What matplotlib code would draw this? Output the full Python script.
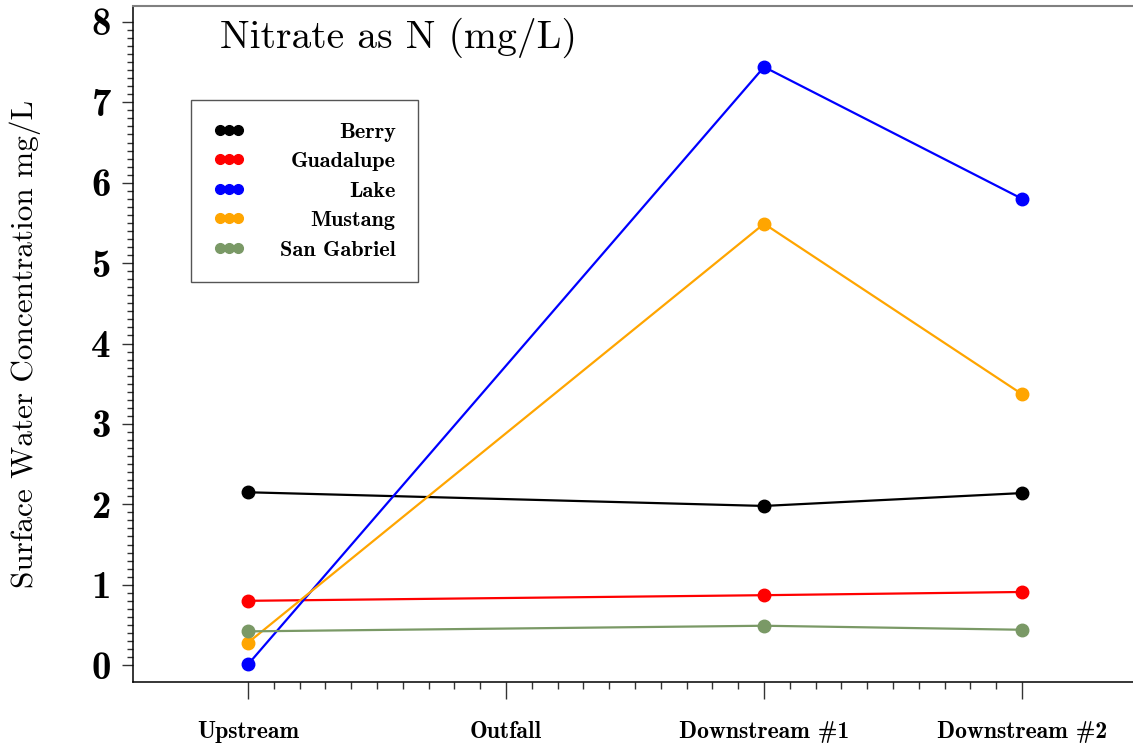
import numpy as np
import matplotlib
matplotlib.use('Agg')
import matplotlib.pyplot as plt
from matplotlib.lines import Line2D
from matplotlib.ticker import FixedLocator

plt.rcParams['axes.unicode_minus'] = False
plt.rcParams['axes.formatter.use_mathtext'] = True

# data
sites = ['Upstream', 'Outfall', 'Downstream #1', 'Downstream #2']
sampled = [0, 2, 3]  # no samples at the outfall
rivers = ['Berry', 'Guadalupe', 'Lake', 'Mustang', 'San Gabriel']
berry = [2.15, 1.98, 2.14]
guadalupe = [0.80, 0.87, 0.91]
lake = [0.01, 7.44, 5.80]
mustang = [0.28, 5.49, 3.37]
san_gabriel = [0.42, 0.49, 0.44]
colors = ['black', 'red', 'blue', 'orange', '#7a9966']

fig = plt.figure(figsize=(11.33, 7.48), dpi=100)
ax = fig.add_axes([0.1174, 0.0882, 0.8826, 0.904])

series = [berry, guadalupe, lake, mustang, san_gabriel]
for vals, c in zip(series, colors):
    ax.plot(sampled, vals, color=c, lw=1.6, marker='o', ms=9, clip_on=False)

ax.set_xlim(-0.446, 3.43)
ax.set_ylim(-0.21, 8.2)

# ticks
ax.set_xticks(range(len(sites)))
ax.set_xticklabels(sites, fontsize=17, family='cmb10')
ax.set_yticks(range(9))
ax.set_yticklabels([str(i) for i in range(9)], fontsize=28, family='cmb10')
xminor = [v for v in np.arange(0, 3.001, 0.1) if abs(v - round(v)) > 1e-6]
yminor = [v for v in np.arange(0, 8.001, 0.1) if abs(v - round(v)) > 1e-6]
ax.xaxis.set_minor_locator(FixedLocator(xminor))
ax.yaxis.set_minor_locator(FixedLocator(yminor))
ax.tick_params(axis='x', which='major', length=12, width=1, color='#333333', pad=16)
ax.tick_params(axis='x', which='minor', length=5, width=1, color='#333333')
ax.tick_params(axis='y', which='major', length=8, width=1, color='#333333', pad=8)
ax.tick_params(axis='y', which='minor', length=4, width=1, color='#333333')

ax.spines['right'].set_visible(False)
ax.spines['top'].set_color('#808080')
ax.spines['top'].set_linewidth(1.5)
ax.spines['left'].set_linewidth(1.1)
ax.spines['bottom'].set_linewidth(1.1)

ax.set_ylabel('Surface Water Concentration mg/L', fontsize=22.5, family='cmr10')
ax.yaxis.set_label_coords(-0.092, 0.5)

ax.text(0.087, 0.953, 'Nitrate as N (mg/L)', transform=ax.transAxes,
        fontsize=28.5, family='cmr10', va='center', ha='left')

# legend with dots only, labels right aligned
handles = [Line2D([], [], ls='none', marker='o', ms=7, color=c) for c in colors]
leg = ax.legend(handles, rivers, loc='upper left', bbox_to_anchor=(0.058, 0.861),
                borderaxespad=0, numpoints=3, handlelength=1.4, handletextpad=1.6,
                borderpad=1.0, labelspacing=0.45, fancybox=False, framealpha=1,
                edgecolor='#555555', prop={'family': 'cmb10', 'size': 16})
leg.get_frame().set_linewidth(1)

fig.canvas.draw()
renderer = fig.canvas.get_renderer()
widths = [t.get_window_extent(renderer).width for t in leg.get_texts()]
wmax = max(widths)
for t, w in zip(leg.get_texts(), widths):
    t.set_position((wmax - w, 0))

fig.savefig('out.png', dpi=100)
